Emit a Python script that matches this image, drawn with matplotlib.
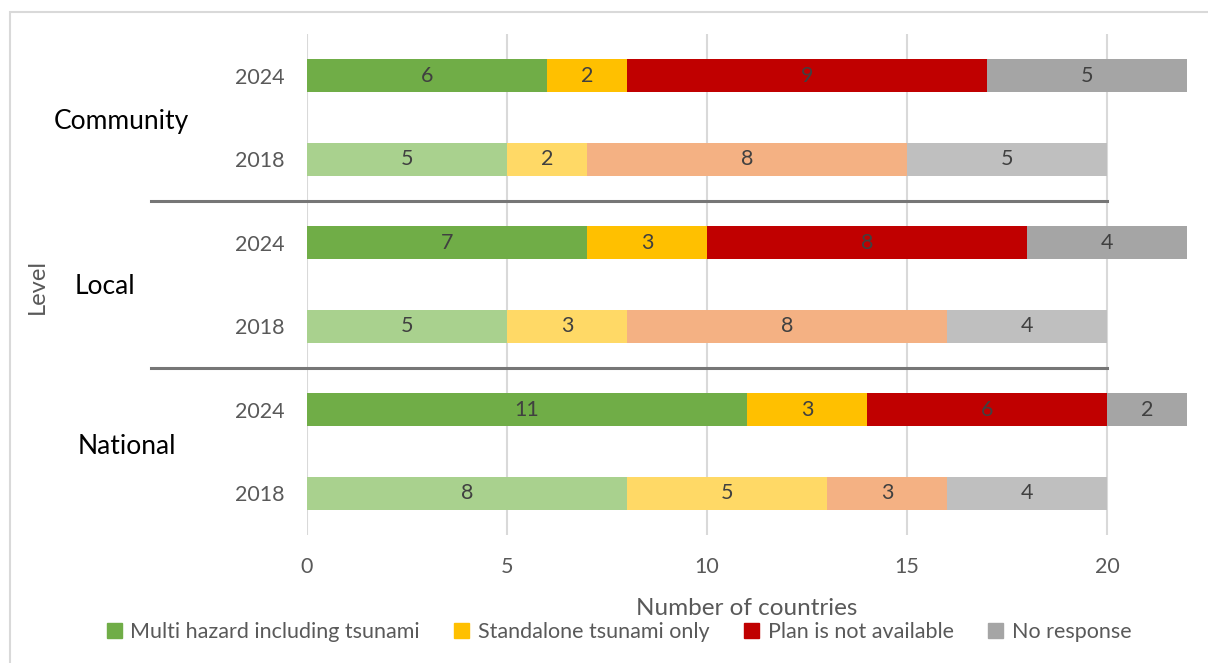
import matplotlib.pyplot as plt
from matplotlib.patches import Rectangle
import numpy as np

# Data (top to bottom)
levels = ["Community", "Local", "National"]
years = ["2024", "2018"]
categories = ["Multi hazard including tsunami", "Standalone tsunami only",
              "Plan is not available", "No response"]

community_2024 = [6, 2, 9, 5]
community_2018 = [5, 2, 8, 5]
local_2024 = [7, 3, 8, 4]
local_2018 = [5, 3, 8, 4]
national_2024 = [11, 3, 6, 2]
national_2018 = [8, 5, 3, 4]

colors_2024 = ["#70AD47", "#FFC000", "#C00000", "#A5A5A5"]
colors_2018 = ["#A9D18E", "#FFD966", "#F4B183", "#BFBFBF"]


def main():
    plt.rcParams['font.family'] = ['Lato', 'DejaVu Sans']

    rows = [community_2024, community_2018, local_2024,
            local_2018, national_2024, national_2018]
    row_labels = years * len(levels)
    row_colors = [colors_2024, colors_2018] * len(levels)

    fig = plt.figure(figsize=(12.08, 6.63), dpi=100)
    # light frame around the chart (runs off the right and bottom edges)
    fig.patches.append(Rectangle((10 / 1208, -0.1), 1.2, 1.1 - 12 / 663,
                                 transform=fig.transFigure, fill=False,
                                 edgecolor="#D9D9D9", linewidth=1.5))

    ax = fig.add_axes([307 / 1208, 1 - 535 / 663, 880 / 1208, 501 / 663])

    y = np.arange(len(rows))
    for i, vals in enumerate(rows):
        left = 0
        for j, v in enumerate(vals):
            ax.barh(y[i], v, left=left, height=0.4,
                    color=row_colors[i][j], zorder=3)
            ax.text(left + v / 2, y[i], str(v), ha="center", va="center",
                    fontsize=15.5, color="#404040", zorder=4)
            left += v

    ax.set_ylim(len(rows) - 0.5, -0.5)
    ax.set_xlim(0, 22)
    ax.set_xticks(range(0, 21, 5))
    ax.set_yticks(y)
    ax.set_yticklabels(row_labels)
    ax.tick_params(axis="both", length=0, labelsize=15.5, colors="#595959")
    ax.tick_params(axis="y", pad=16)
    ax.tick_params(axis="x", pad=16)
    ax.grid(axis="x", color="#D9D9D9", linewidth=1.5, zorder=0)
    for s in ax.spines.values():
        s.set_visible(False)

    ax.set_xlabel("Number of countries", fontsize=17.5, color="#595959",
                  labelpad=15)

    # group separators
    for k in range(1, len(levels)):
        ax.plot([-3.9, 20], [2 * k - 0.5, 2 * k - 0.5], color="#767676",
                linewidth=2.2, clip_on=False, zorder=5)

    # group labels
    group_x = [54, 75, 78]
    group_y = [0.55, 2.52, 4.44]
    for k, name in enumerate(levels):
        ax.text((group_x[k] - 307) / 40, group_y[k], name, fontsize=19,
                color="black", ha="left", va="center")

    fig.text(37 / 1208, 1 - 287 / 663, "Level", rotation=90, fontsize=17,
             color="#595959", ha="center", va="center")

    handles = [Rectangle((0, 0), 1, 1, color=c) for c in colors_2024]
    fig.legend(handles, categories, loc="center",
               bbox_to_anchor=(619 / 1208, 1 - 632 / 663), ncol=4,
               frameon=False, fontsize=15.5, labelcolor="#595959",
               handlelength=0.7, handleheight=0.7, handletextpad=0.4,
               columnspacing=1.6)

    fig.savefig("out.png", dpi=100)


if __name__ == "__main__":
    main()
